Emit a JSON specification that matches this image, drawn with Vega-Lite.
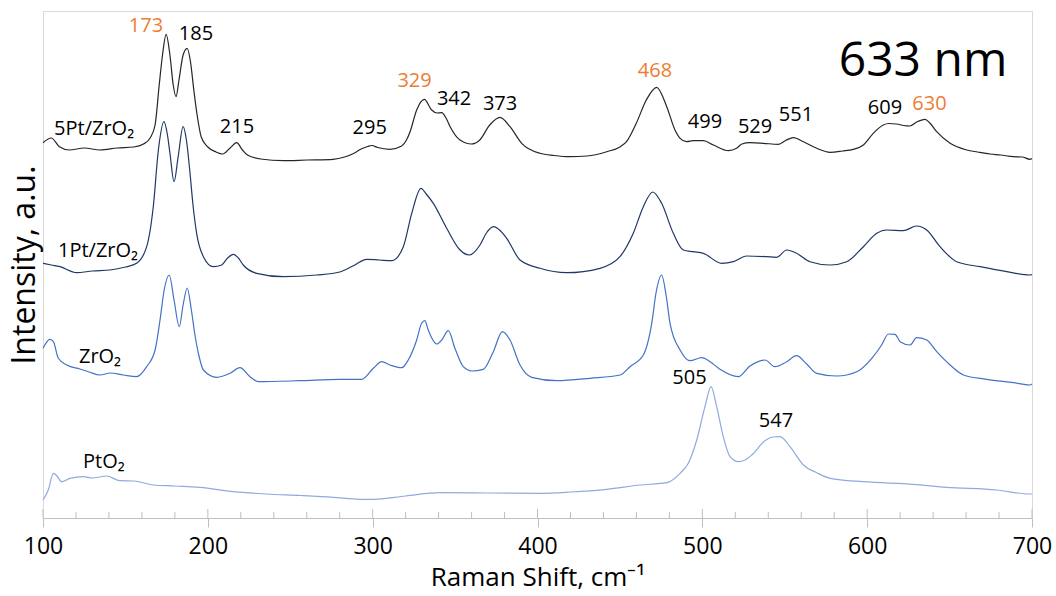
{
  "$schema": "https://vega.github.io/schema/vega-lite/v6.json",
  "autosize": "none",
  "width": 989,
  "height": 507,
  "padding": {"left": 43, "top": 11, "right": 24, "bottom": 78},
  "background": "white",
  "config": {
    "view": {"stroke": "#d9d9d9", "strokeWidth": 1},
    "font": "Open Sans",
    "axis": {"labelFont": "Open Sans", "titleFont": "Open Sans", "titleFontWeight": "normal", "labelColor": "#000000", "titleColor": "#000000", "grid": false}
  },
  "datasets": {
    "spectra": [
      {"sample": "5Pt/ZrO2", "shift": 100, "intensity": 375.3},
      {"sample": "5Pt/ZrO2", "shift": 105, "intensity": 380},
      {"sample": "5Pt/ZrO2", "shift": 110, "intensity": 371.3},
      {"sample": "5Pt/ZrO2", "shift": 116, "intensity": 368},
      {"sample": "5Pt/ZrO2", "shift": 125, "intensity": 370},
      {"sample": "5Pt/ZrO2", "shift": 134.6, "intensity": 368},
      {"sample": "5Pt/ZrO2", "shift": 145, "intensity": 370},
      {"sample": "5Pt/ZrO2", "shift": 155, "intensity": 371},
      {"sample": "5Pt/ZrO2", "shift": 161, "intensity": 374},
      {"sample": "5Pt/ZrO2", "shift": 165, "intensity": 380},
      {"sample": "5Pt/ZrO2", "shift": 168, "intensity": 393},
      {"sample": "5Pt/ZrO2", "shift": 170.5, "intensity": 433},
      {"sample": "5Pt/ZrO2", "shift": 172.5, "intensity": 463},
      {"sample": "5Pt/ZrO2", "shift": 174.7, "intensity": 483.7},
      {"sample": "5Pt/ZrO2", "shift": 177, "intensity": 463},
      {"sample": "5Pt/ZrO2", "shift": 179, "intensity": 433},
      {"sample": "5Pt/ZrO2", "shift": 180.7, "intensity": 421.3},
      {"sample": "5Pt/ZrO2", "shift": 182.5, "intensity": 438},
      {"sample": "5Pt/ZrO2", "shift": 185, "intensity": 463},
      {"sample": "5Pt/ZrO2", "shift": 187.5, "intensity": 469.7},
      {"sample": "5Pt/ZrO2", "shift": 189.5, "intensity": 456},
      {"sample": "5Pt/ZrO2", "shift": 191.5, "intensity": 428},
      {"sample": "5Pt/ZrO2", "shift": 193.5, "intensity": 403},
      {"sample": "5Pt/ZrO2", "shift": 196, "intensity": 381},
      {"sample": "5Pt/ZrO2", "shift": 200, "intensity": 371},
      {"sample": "5Pt/ZrO2", "shift": 205, "intensity": 366},
      {"sample": "5Pt/ZrO2", "shift": 209, "intensity": 364},
      {"sample": "5Pt/ZrO2", "shift": 213.5, "intensity": 370},
      {"sample": "5Pt/ZrO2", "shift": 217.5, "intensity": 375.3},
      {"sample": "5Pt/ZrO2", "shift": 221, "intensity": 368},
      {"sample": "5Pt/ZrO2", "shift": 224, "intensity": 363},
      {"sample": "5Pt/ZrO2", "shift": 232, "intensity": 359},
      {"sample": "5Pt/ZrO2", "shift": 246, "intensity": 357.3},
      {"sample": "5Pt/ZrO2", "shift": 260, "intensity": 358},
      {"sample": "5Pt/ZrO2", "shift": 276, "intensity": 358.7},
      {"sample": "5Pt/ZrO2", "shift": 283, "intensity": 361},
      {"sample": "5Pt/ZrO2", "shift": 289, "intensity": 365},
      {"sample": "5Pt/ZrO2", "shift": 293, "intensity": 369},
      {"sample": "5Pt/ZrO2", "shift": 297, "intensity": 371.5},
      {"sample": "5Pt/ZrO2", "shift": 299.5, "intensity": 372.5},
      {"sample": "5Pt/ZrO2", "shift": 303, "intensity": 370.5},
      {"sample": "5Pt/ZrO2", "shift": 310.5, "intensity": 368.7},
      {"sample": "5Pt/ZrO2", "shift": 317.6, "intensity": 372},
      {"sample": "5Pt/ZrO2", "shift": 320.5, "intensity": 378},
      {"sample": "5Pt/ZrO2", "shift": 322.7, "intensity": 386.3},
      {"sample": "5Pt/ZrO2", "shift": 326.7, "intensity": 408},
      {"sample": "5Pt/ZrO2", "shift": 331.3, "intensity": 418.7},
      {"sample": "5Pt/ZrO2", "shift": 335.8, "intensity": 408},
      {"sample": "5Pt/ZrO2", "shift": 339, "intensity": 405},
      {"sample": "5Pt/ZrO2", "shift": 341.9, "intensity": 405.3},
      {"sample": "5Pt/ZrO2", "shift": 344.5, "intensity": 400},
      {"sample": "5Pt/ZrO2", "shift": 347, "intensity": 391.3},
      {"sample": "5Pt/ZrO2", "shift": 353, "intensity": 378},
      {"sample": "5Pt/ZrO2", "shift": 360, "intensity": 374},
      {"sample": "5Pt/ZrO2", "shift": 365, "intensity": 378},
      {"sample": "5Pt/ZrO2", "shift": 371, "intensity": 393},
      {"sample": "5Pt/ZrO2", "shift": 377.3, "intensity": 400.7},
      {"sample": "5Pt/ZrO2", "shift": 383.3, "intensity": 391.3},
      {"sample": "5Pt/ZrO2", "shift": 390.4, "intensity": 374.7},
      {"sample": "5Pt/ZrO2", "shift": 401.5, "intensity": 364.7},
      {"sample": "5Pt/ZrO2", "shift": 410, "intensity": 362.5},
      {"sample": "5Pt/ZrO2", "shift": 419.7, "intensity": 361.3},
      {"sample": "5Pt/ZrO2", "shift": 430, "intensity": 362},
      {"sample": "5Pt/ZrO2", "shift": 442, "intensity": 366.3},
      {"sample": "5Pt/ZrO2", "shift": 450, "intensity": 371},
      {"sample": "5Pt/ZrO2", "shift": 454, "intensity": 376.3},
      {"sample": "5Pt/ZrO2", "shift": 460, "intensity": 395},
      {"sample": "5Pt/ZrO2", "shift": 466, "intensity": 418},
      {"sample": "5Pt/ZrO2", "shift": 472.3, "intensity": 430.7},
      {"sample": "5Pt/ZrO2", "shift": 478.4, "intensity": 411.3},
      {"sample": "5Pt/ZrO2", "shift": 483.4, "intensity": 388},
      {"sample": "5Pt/ZrO2", "shift": 486.5, "intensity": 379.7},
      {"sample": "5Pt/ZrO2", "shift": 490.5, "intensity": 376.3},
      {"sample": "5Pt/ZrO2", "shift": 494.5, "intensity": 377.3},
      {"sample": "5Pt/ZrO2", "shift": 500.6, "intensity": 377.3},
      {"sample": "5Pt/ZrO2", "shift": 506.7, "intensity": 373},
      {"sample": "5Pt/ZrO2", "shift": 515.8, "intensity": 367.3},
      {"sample": "5Pt/ZrO2", "shift": 520.8, "intensity": 369.7},
      {"sample": "5Pt/ZrO2", "shift": 524, "intensity": 374},
      {"sample": "5Pt/ZrO2", "shift": 528.9, "intensity": 375.3},
      {"sample": "5Pt/ZrO2", "shift": 537, "intensity": 374.7},
      {"sample": "5Pt/ZrO2", "shift": 546.1, "intensity": 373.7},
      {"sample": "5Pt/ZrO2", "shift": 551, "intensity": 378},
      {"sample": "5Pt/ZrO2", "shift": 555.2, "intensity": 380.3},
      {"sample": "5Pt/ZrO2", "shift": 561.3, "intensity": 376.3},
      {"sample": "5Pt/ZrO2", "shift": 569.4, "intensity": 369.7},
      {"sample": "5Pt/ZrO2", "shift": 577.5, "intensity": 365.7},
      {"sample": "5Pt/ZrO2", "shift": 585, "intensity": 367},
      {"sample": "5Pt/ZrO2", "shift": 591.6, "intensity": 368.7},
      {"sample": "5Pt/ZrO2", "shift": 597.7, "intensity": 373},
      {"sample": "5Pt/ZrO2", "shift": 603.7, "intensity": 384.7},
      {"sample": "5Pt/ZrO2", "shift": 609.8, "intensity": 393},
      {"sample": "5Pt/ZrO2", "shift": 613, "intensity": 394.5},
      {"sample": "5Pt/ZrO2", "shift": 617.9, "intensity": 394},
      {"sample": "5Pt/ZrO2", "shift": 622, "intensity": 392.5},
      {"sample": "5Pt/ZrO2", "shift": 626, "intensity": 392},
      {"sample": "5Pt/ZrO2", "shift": 630, "intensity": 396},
      {"sample": "5Pt/ZrO2", "shift": 635.1, "intensity": 398.7},
      {"sample": "5Pt/ZrO2", "shift": 638, "intensity": 395},
      {"sample": "5Pt/ZrO2", "shift": 642.2, "intensity": 386.3},
      {"sample": "5Pt/ZrO2", "shift": 650.3, "intensity": 374.7},
      {"sample": "5Pt/ZrO2", "shift": 660.4, "intensity": 368},
      {"sample": "5Pt/ZrO2", "shift": 667, "intensity": 366},
      {"sample": "5Pt/ZrO2", "shift": 674.5, "intensity": 364},
      {"sample": "5Pt/ZrO2", "shift": 681, "intensity": 363},
      {"sample": "5Pt/ZrO2", "shift": 688.7, "intensity": 361.3},
      {"sample": "5Pt/ZrO2", "shift": 694, "intensity": 361},
      {"sample": "5Pt/ZrO2", "shift": 698.8, "intensity": 358.7},
      {"sample": "5Pt/ZrO2", "shift": 700, "intensity": 359.5},

      {"sample": "1Pt/ZrO2", "shift": 100, "intensity": 254.7},
      {"sample": "1Pt/ZrO2", "shift": 105, "intensity": 253},
      {"sample": "1Pt/ZrO2", "shift": 110.3, "intensity": 251.3},
      {"sample": "1Pt/ZrO2", "shift": 120.4, "intensity": 245.3},
      {"sample": "1Pt/ZrO2", "shift": 130, "intensity": 247},
      {"sample": "1Pt/ZrO2", "shift": 140.6, "intensity": 248},
      {"sample": "1Pt/ZrO2", "shift": 150, "intensity": 251},
      {"sample": "1Pt/ZrO2", "shift": 156.8, "intensity": 254.7},
      {"sample": "1Pt/ZrO2", "shift": 162.9, "intensity": 271.3},
      {"sample": "1Pt/ZrO2", "shift": 166.9, "intensity": 311.3},
      {"sample": "1Pt/ZrO2", "shift": 170, "intensity": 368},
      {"sample": "1Pt/ZrO2", "shift": 173.4, "intensity": 396.3},
      {"sample": "1Pt/ZrO2", "shift": 175.5, "intensity": 383},
      {"sample": "1Pt/ZrO2", "shift": 177, "intensity": 365},
      {"sample": "1Pt/ZrO2", "shift": 179.5, "intensity": 336.3},
      {"sample": "1Pt/ZrO2", "shift": 182, "intensity": 361.3},
      {"sample": "1Pt/ZrO2", "shift": 185, "intensity": 391.3},
      {"sample": "1Pt/ZrO2", "shift": 187, "intensity": 378},
      {"sample": "1Pt/ZrO2", "shift": 189.2, "intensity": 344.7},
      {"sample": "1Pt/ZrO2", "shift": 191, "intensity": 313},
      {"sample": "1Pt/ZrO2", "shift": 193.2, "intensity": 284.7},
      {"sample": "1Pt/ZrO2", "shift": 197.3, "intensity": 261.3},
      {"sample": "1Pt/ZrO2", "shift": 203.3, "intensity": 251.3},
      {"sample": "1Pt/ZrO2", "shift": 208.4, "intensity": 253},
      {"sample": "1Pt/ZrO2", "shift": 212, "intensity": 260},
      {"sample": "1Pt/ZrO2", "shift": 215.5, "intensity": 263.7},
      {"sample": "1Pt/ZrO2", "shift": 218.5, "intensity": 260},
      {"sample": "1Pt/ZrO2", "shift": 221.5, "intensity": 253},
      {"sample": "1Pt/ZrO2", "shift": 229.6, "intensity": 244.7},
      {"sample": "1Pt/ZrO2", "shift": 245.8, "intensity": 241.3},
      {"sample": "1Pt/ZrO2", "shift": 266, "intensity": 243},
      {"sample": "1Pt/ZrO2", "shift": 280, "intensity": 246},
      {"sample": "1Pt/ZrO2", "shift": 288, "intensity": 252},
      {"sample": "1Pt/ZrO2", "shift": 296.4, "intensity": 258.7},
      {"sample": "1Pt/ZrO2", "shift": 304, "intensity": 258},
      {"sample": "1Pt/ZrO2", "shift": 311.6, "intensity": 257.3},
      {"sample": "1Pt/ZrO2", "shift": 318.6, "intensity": 271.3},
      {"sample": "1Pt/ZrO2", "shift": 323.7, "intensity": 304.7},
      {"sample": "1Pt/ZrO2", "shift": 329.3, "intensity": 329.7},
      {"sample": "1Pt/ZrO2", "shift": 332.5, "intensity": 324},
      {"sample": "1Pt/ZrO2", "shift": 336.8, "intensity": 314.7},
      {"sample": "1Pt/ZrO2", "shift": 344.9, "intensity": 289.7},
      {"sample": "1Pt/ZrO2", "shift": 353, "intensity": 268},
      {"sample": "1Pt/ZrO2", "shift": 358.6, "intensity": 263},
      {"sample": "1Pt/ZrO2", "shift": 365.1, "intensity": 273},
      {"sample": "1Pt/ZrO2", "shift": 369, "intensity": 285},
      {"sample": "1Pt/ZrO2", "shift": 373.2, "intensity": 291.3},
      {"sample": "1Pt/ZrO2", "shift": 377, "intensity": 288},
      {"sample": "1Pt/ZrO2", "shift": 381.3, "intensity": 279.7},
      {"sample": "1Pt/ZrO2", "shift": 389.4, "intensity": 258},
      {"sample": "1Pt/ZrO2", "shift": 401.5, "intensity": 249.7},
      {"sample": "1Pt/ZrO2", "shift": 417.7, "intensity": 245.3},
      {"sample": "1Pt/ZrO2", "shift": 437.9, "intensity": 249.7},
      {"sample": "1Pt/ZrO2", "shift": 450, "intensity": 261.3},
      {"sample": "1Pt/ZrO2", "shift": 458.1, "intensity": 284.7},
      {"sample": "1Pt/ZrO2", "shift": 464.2, "intensity": 311.3},
      {"sample": "1Pt/ZrO2", "shift": 469.9, "intensity": 326},
      {"sample": "1Pt/ZrO2", "shift": 475.3, "intensity": 314.7},
      {"sample": "1Pt/ZrO2", "shift": 482.4, "intensity": 284.7},
      {"sample": "1Pt/ZrO2", "shift": 488.5, "intensity": 268},
      {"sample": "1Pt/ZrO2", "shift": 494.5, "intensity": 266.3},
      {"sample": "1Pt/ZrO2", "shift": 500.6, "intensity": 264.7},
      {"sample": "1Pt/ZrO2", "shift": 511.7, "intensity": 254.7},
      {"sample": "1Pt/ZrO2", "shift": 518.8, "intensity": 256.3},
      {"sample": "1Pt/ZrO2", "shift": 526.9, "intensity": 262},
      {"sample": "1Pt/ZrO2", "shift": 539, "intensity": 261.3},
      {"sample": "1Pt/ZrO2", "shift": 545.1, "intensity": 260.7},
      {"sample": "1Pt/ZrO2", "shift": 551.2, "intensity": 268},
      {"sample": "1Pt/ZrO2", "shift": 557.2, "intensity": 264.7},
      {"sample": "1Pt/ZrO2", "shift": 565.3, "intensity": 256.3},
      {"sample": "1Pt/ZrO2", "shift": 577.5, "intensity": 253},
      {"sample": "1Pt/ZrO2", "shift": 587.6, "intensity": 256.3},
      {"sample": "1Pt/ZrO2", "shift": 597.7, "intensity": 271.3},
      {"sample": "1Pt/ZrO2", "shift": 605.8, "intensity": 284.7},
      {"sample": "1Pt/ZrO2", "shift": 611.8, "intensity": 288},
      {"sample": "1Pt/ZrO2", "shift": 621.9, "intensity": 287.3},
      {"sample": "1Pt/ZrO2", "shift": 630, "intensity": 292},
      {"sample": "1Pt/ZrO2", "shift": 636.1, "intensity": 288},
      {"sample": "1Pt/ZrO2", "shift": 644.2, "intensity": 271.3},
      {"sample": "1Pt/ZrO2", "shift": 654.3, "intensity": 256.3},
      {"sample": "1Pt/ZrO2", "shift": 668.5, "intensity": 251.3},
      {"sample": "1Pt/ZrO2", "shift": 684.7, "intensity": 246.3},
      {"sample": "1Pt/ZrO2", "shift": 698.8, "intensity": 243},
      {"sample": "1Pt/ZrO2", "shift": 700, "intensity": 243.5},

      {"sample": "ZrO2", "shift": 100, "intensity": 169.7},
      {"sample": "ZrO2", "shift": 104.2, "intensity": 178.7},
      {"sample": "ZrO2", "shift": 106.3, "intensity": 176.3},
      {"sample": "ZrO2", "shift": 109.3, "intensity": 159.7},
      {"sample": "ZrO2", "shift": 114.4, "intensity": 153},
      {"sample": "ZrO2", "shift": 122.4, "intensity": 149},
      {"sample": "ZrO2", "shift": 128, "intensity": 146},
      {"sample": "ZrO2", "shift": 134.6, "intensity": 143},
      {"sample": "ZrO2", "shift": 141, "intensity": 145},
      {"sample": "ZrO2", "shift": 148.7, "intensity": 143},
      {"sample": "ZrO2", "shift": 156.8, "intensity": 141.3},
      {"sample": "ZrO2", "shift": 162.9, "intensity": 151.3},
      {"sample": "ZrO2", "shift": 168, "intensity": 168},
      {"sample": "ZrO2", "shift": 171, "intensity": 198},
      {"sample": "ZrO2", "shift": 173.5, "intensity": 228},
      {"sample": "ZrO2", "shift": 176.6, "intensity": 243},
      {"sample": "ZrO2", "shift": 179.5, "intensity": 218},
      {"sample": "ZrO2", "shift": 182.7, "intensity": 191.3},
      {"sample": "ZrO2", "shift": 185, "intensity": 213},
      {"sample": "ZrO2", "shift": 187.5, "intensity": 230},
      {"sample": "ZrO2", "shift": 190, "intensity": 208},
      {"sample": "ZrO2", "shift": 192.2, "intensity": 183},
      {"sample": "ZrO2", "shift": 194.5, "intensity": 163},
      {"sample": "ZrO2", "shift": 197.3, "intensity": 148},
      {"sample": "ZrO2", "shift": 205.4, "intensity": 140.7},
      {"sample": "ZrO2", "shift": 213.5, "intensity": 144.7},
      {"sample": "ZrO2", "shift": 219.5, "intensity": 150.3},
      {"sample": "ZrO2", "shift": 225.6, "intensity": 141.3},
      {"sample": "ZrO2", "shift": 230.6, "intensity": 136.3},
      {"sample": "ZrO2", "shift": 256, "intensity": 137.3},
      {"sample": "ZrO2", "shift": 280, "intensity": 138.7},
      {"sample": "ZrO2", "shift": 293.3, "intensity": 138.7},
      {"sample": "ZrO2", "shift": 300.4, "intensity": 149.7},
      {"sample": "ZrO2", "shift": 305.5, "intensity": 156.3},
      {"sample": "ZrO2", "shift": 310.5, "intensity": 153},
      {"sample": "ZrO2", "shift": 317.6, "intensity": 150.3},
      {"sample": "ZrO2", "shift": 321.6, "intensity": 158},
      {"sample": "ZrO2", "shift": 326.7, "intensity": 178},
      {"sample": "ZrO2", "shift": 329.7, "intensity": 194.7},
      {"sample": "ZrO2", "shift": 331.7, "intensity": 197.3},
      {"sample": "ZrO2", "shift": 333.7, "intensity": 188},
      {"sample": "ZrO2", "shift": 338.8, "intensity": 174},
      {"sample": "ZrO2", "shift": 341.9, "intensity": 178},
      {"sample": "ZrO2", "shift": 345.9, "intensity": 187.3},
      {"sample": "ZrO2", "shift": 349.9, "intensity": 169.7},
      {"sample": "ZrO2", "shift": 355, "intensity": 151.3},
      {"sample": "ZrO2", "shift": 360.1, "intensity": 147},
      {"sample": "ZrO2", "shift": 367.1, "intensity": 148.7},
      {"sample": "ZrO2", "shift": 373.2, "intensity": 166.3},
      {"sample": "ZrO2", "shift": 378.7, "intensity": 186.3},
      {"sample": "ZrO2", "shift": 383.3, "intensity": 178},
      {"sample": "ZrO2", "shift": 389.4, "intensity": 153},
      {"sample": "ZrO2", "shift": 396.5, "intensity": 140.7},
      {"sample": "ZrO2", "shift": 411.7, "intensity": 137.3},
      {"sample": "ZrO2", "shift": 431.9, "intensity": 139.7},
      {"sample": "ZrO2", "shift": 450.1, "intensity": 143},
      {"sample": "ZrO2", "shift": 456.1, "intensity": 151.3},
      {"sample": "ZrO2", "shift": 464.2, "intensity": 163},
      {"sample": "ZrO2", "shift": 469.3, "intensity": 194.7},
      {"sample": "ZrO2", "shift": 472, "intensity": 226},
      {"sample": "ZrO2", "shift": 475.3, "intensity": 243},
      {"sample": "ZrO2", "shift": 478, "intensity": 223},
      {"sample": "ZrO2", "shift": 480.4, "intensity": 194.7},
      {"sample": "ZrO2", "shift": 486.5, "intensity": 168},
      {"sample": "ZrO2", "shift": 492.5, "intensity": 157.3},
      {"sample": "ZrO2", "shift": 499.6, "intensity": 160.3},
      {"sample": "ZrO2", "shift": 504.7, "intensity": 156.3},
      {"sample": "ZrO2", "shift": 510.7, "intensity": 148.7},
      {"sample": "ZrO2", "shift": 521.8, "intensity": 141.3},
      {"sample": "ZrO2", "shift": 528.9, "intensity": 152},
      {"sample": "ZrO2", "shift": 538, "intensity": 158},
      {"sample": "ZrO2", "shift": 544.1, "intensity": 151.3},
      {"sample": "ZrO2", "shift": 551.2, "intensity": 156.3},
      {"sample": "ZrO2", "shift": 557.2, "intensity": 162.3},
      {"sample": "ZrO2", "shift": 563.3, "intensity": 154},
      {"sample": "ZrO2", "shift": 569.4, "intensity": 144.7},
      {"sample": "ZrO2", "shift": 581.5, "intensity": 142},
      {"sample": "ZrO2", "shift": 593.7, "intensity": 146.3},
      {"sample": "ZrO2", "shift": 602.8, "intensity": 159.7},
      {"sample": "ZrO2", "shift": 608.8, "intensity": 173},
      {"sample": "ZrO2", "shift": 612.9, "intensity": 184},
      {"sample": "ZrO2", "shift": 616.9, "intensity": 183.7},
      {"sample": "ZrO2", "shift": 620, "intensity": 176.3},
      {"sample": "ZrO2", "shift": 626, "intensity": 173},
      {"sample": "ZrO2", "shift": 630, "intensity": 180.3},
      {"sample": "ZrO2", "shift": 636.1, "intensity": 178},
      {"sample": "ZrO2", "shift": 642.2, "intensity": 166.3},
      {"sample": "ZrO2", "shift": 650.3, "intensity": 153},
      {"sample": "ZrO2", "shift": 658.4, "intensity": 143},
      {"sample": "ZrO2", "shift": 672.5, "intensity": 138.7},
      {"sample": "ZrO2", "shift": 688.7, "intensity": 135.3},
      {"sample": "ZrO2", "shift": 698.8, "intensity": 133},
      {"sample": "ZrO2", "shift": 700, "intensity": 134},

      {"sample": "PtO2", "shift": 100, "intensity": 18},
      {"sample": "PtO2", "shift": 103.2, "intensity": 28},
      {"sample": "PtO2", "shift": 106.3, "intensity": 44.7},
      {"sample": "PtO2", "shift": 108.5, "intensity": 42},
      {"sample": "PtO2", "shift": 111.3, "intensity": 36.3},
      {"sample": "PtO2", "shift": 116.4, "intensity": 39.7},
      {"sample": "PtO2", "shift": 124.5, "intensity": 41.3},
      {"sample": "PtO2", "shift": 130, "intensity": 40},
      {"sample": "PtO2", "shift": 138.6, "intensity": 42},
      {"sample": "PtO2", "shift": 146.7, "intensity": 37.3},
      {"sample": "PtO2", "shift": 155, "intensity": 37},
      {"sample": "PtO2", "shift": 166.9, "intensity": 33},
      {"sample": "PtO2", "shift": 180, "intensity": 32},
      {"sample": "PtO2", "shift": 195.2, "intensity": 30.7},
      {"sample": "PtO2", "shift": 215.5, "intensity": 26.3},
      {"sample": "PtO2", "shift": 235.7, "intensity": 24},
      {"sample": "PtO2", "shift": 256, "intensity": 22.5},
      {"sample": "PtO2", "shift": 276.1, "intensity": 20.7},
      {"sample": "PtO2", "shift": 292.3, "intensity": 18.7},
      {"sample": "PtO2", "shift": 300.4, "intensity": 18.7},
      {"sample": "PtO2", "shift": 320, "intensity": 22},
      {"sample": "PtO2", "shift": 340.9, "intensity": 25.3},
      {"sample": "PtO2", "shift": 370, "intensity": 25},
      {"sample": "PtO2", "shift": 401.5, "intensity": 24.7},
      {"sample": "PtO2", "shift": 420, "intensity": 26},
      {"sample": "PtO2", "shift": 442, "intensity": 28.7},
      {"sample": "PtO2", "shift": 462.2, "intensity": 33},
      {"sample": "PtO2", "shift": 478.4, "intensity": 35.3},
      {"sample": "PtO2", "shift": 486.5, "intensity": 44.7},
      {"sample": "PtO2", "shift": 491.5, "intensity": 54.7},
      {"sample": "PtO2", "shift": 496.6, "intensity": 78},
      {"sample": "PtO2", "shift": 501.6, "intensity": 111.3},
      {"sample": "PtO2", "shift": 505.3, "intensity": 131.3},
      {"sample": "PtO2", "shift": 508.7, "intensity": 111.3},
      {"sample": "PtO2", "shift": 512.7, "intensity": 81.3},
      {"sample": "PtO2", "shift": 516.8, "intensity": 61.3},
      {"sample": "PtO2", "shift": 521.8, "intensity": 56.3},
      {"sample": "PtO2", "shift": 525.9, "intensity": 58},
      {"sample": "PtO2", "shift": 530, "intensity": 63},
      {"sample": "PtO2", "shift": 538, "intensity": 77.3},
      {"sample": "PtO2", "shift": 543, "intensity": 81},
      {"sample": "PtO2", "shift": 547.1, "intensity": 81.3},
      {"sample": "PtO2", "shift": 553.2, "intensity": 71.3},
      {"sample": "PtO2", "shift": 561.3, "intensity": 53},
      {"sample": "PtO2", "shift": 569.4, "intensity": 45.3},
      {"sample": "PtO2", "shift": 577.5, "intensity": 39.7},
      {"sample": "PtO2", "shift": 597.7, "intensity": 36.3},
      {"sample": "PtO2", "shift": 628, "intensity": 33.7},
      {"sample": "PtO2", "shift": 648.2, "intensity": 30.7},
      {"sample": "PtO2", "shift": 678.6, "intensity": 28},
      {"sample": "PtO2", "shift": 698.8, "intensity": 24},
      {"sample": "PtO2", "shift": 700, "intensity": 24}
    ],
    "peaks": [
      {"label": "173", "band": "main", "shift": 162.5, "intensity": 492.5},
      {"label": "185", "band": "other", "shift": 192.8, "intensity": 484},
      {"label": "215", "band": "other", "shift": 217.7, "intensity": 391.3},
      {"label": "295", "band": "other", "shift": 298.2, "intensity": 390.5},
      {"label": "329", "band": "main", "shift": 325.4, "intensity": 437.2},
      {"label": "342", "band": "other", "shift": 349.4, "intensity": 419},
      {"label": "373", "band": "other", "shift": 377.3, "intensity": 414},
      {"label": "468", "band": "main", "shift": 471.3, "intensity": 447.2},
      {"label": "499", "band": "other", "shift": 501.6, "intensity": 396.3},
      {"label": "529", "band": "other", "shift": 532, "intensity": 391.3},
      {"label": "551", "band": "other", "shift": 556.8, "intensity": 403.3},
      {"label": "609", "band": "other", "shift": 610.8, "intensity": 410.3},
      {"label": "630", "band": "main", "shift": 637.8, "intensity": 414},
      {"label": "505", "band": "other", "shift": 492.2, "intensity": 140.5},
      {"label": "547", "band": "other", "shift": 544.7, "intensity": 97.5}
    ],
    "names": [
      {"name": "5Pt/ZrO₂", "shift": 106.7, "intensity": 389.3},
      {"name": "1Pt/ZrO₂", "shift": 109.1, "intensity": 267.5},
      {"name": "ZrO₂", "shift": 121.8, "intensity": 161},
      {"name": "PtO₂", "shift": 124.3, "intensity": 56}
    ],
    "majorTicks": [{"shift": 100}, {"shift": 200}, {"shift": 300}, {"shift": 400}, {"shift": 500}, {"shift": 600}, {"shift": 700}],
    "minorTicks": [
      {"shift": 120}, {"shift": 140}, {"shift": 160}, {"shift": 180},
      {"shift": 220}, {"shift": 240}, {"shift": 260}, {"shift": 280},
      {"shift": 320}, {"shift": 340}, {"shift": 360}, {"shift": 380},
      {"shift": 420}, {"shift": 440}, {"shift": 460}, {"shift": 480},
      {"shift": 520}, {"shift": 540}, {"shift": 560}, {"shift": 580},
      {"shift": 620}, {"shift": 640}, {"shift": 660}, {"shift": 680}
    ],
    "laser": [{"text": "633 nm", "shift": 633.9, "intensity": 456.3}]
  },
  "layer": [
    {
      "data": {"name": "spectra"},
      "mark": {"type": "line", "strokeWidth": 1.2, "interpolate": "monotone"},
      "encoding": {
        "x": {
          "field": "shift", "type": "quantitative",
          "scale": {"domain": [100, 700], "nice": false, "zero": false},
          "axis": {
            "values": [100, 200, 300, 400, 500, 600, 700],
            "tickSize": 9, "tickColor": "#bfbfbf", "domainColor": "#bfbfbf",
            "labelFontSize": 23, "labelPadding": 8, "labelFlush": false,
            "title": "Raman Shift, cm⁻¹", "titleFontSize": 26, "titlePadding": 6
          }
        },
        "y": {
          "field": "intensity", "type": "quantitative",
          "scale": {"domain": [0, 507], "nice": false, "zero": false},
          "axis": {
            "labels": false, "ticks": false, "domain": false,
            "title": "Intensity, a.u.", "titleFontSize": 32, "titlePadding": 2
          }
        },
        "color": {
          "field": "sample", "type": "nominal",
          "scale": {"domain": ["5Pt/ZrO2", "1Pt/ZrO2", "ZrO2", "PtO2"], "range": ["#262626", "#203864", "#4472c4", "#8faadc"]},
          "legend": null
        }
      }
    },
    {
      "data": {"name": "majorTicks"},
      "mark": {"type": "rule", "color": "#bfbfbf", "strokeWidth": 1},
      "encoding": {
        "x": {"field": "shift", "type": "quantitative"},
        "y": {"datum": 0},
        "y2": {"datum": 9}
      }
    },
    {
      "data": {"name": "minorTicks"},
      "mark": {"type": "rule", "color": "#bfbfbf", "strokeWidth": 1},
      "encoding": {
        "x": {"field": "shift", "type": "quantitative"},
        "y": {"datum": 0},
        "y2": {"datum": 6}
      }
    },
    {
      "data": {"name": "peaks"},
      "mark": {"type": "text", "fontSize": 20, "align": "center", "baseline": "middle", "font": "Open Sans"},
      "encoding": {
        "x": {"field": "shift", "type": "quantitative"},
        "y": {"field": "intensity", "type": "quantitative"},
        "text": {"field": "label"},
        "color": {
          "field": "band", "type": "nominal",
          "scale": {"domain": ["main", "other"], "range": ["#ed7d31", "#000000"]},
          "legend": null
        }
      }
    },
    {
      "data": {"name": "names"},
      "mark": {"type": "text", "fontSize": 20, "align": "left", "baseline": "middle", "color": "#000000", "font": "Open Sans"},
      "encoding": {
        "x": {"field": "shift", "type": "quantitative"},
        "y": {"field": "intensity", "type": "quantitative"},
        "text": {"field": "name"}
      }
    },
    {
      "data": {"name": "laser"},
      "mark": {"type": "text", "fontSize": 48, "align": "center", "baseline": "middle", "color": "#000000", "font": "Open Sans"},
      "encoding": {
        "x": {"field": "shift", "type": "quantitative"},
        "y": {"field": "intensity", "type": "quantitative"},
        "text": {"field": "text"}
      }
    }
  ],
  "resolve": {"scale": {"color": "independent"}}
}
